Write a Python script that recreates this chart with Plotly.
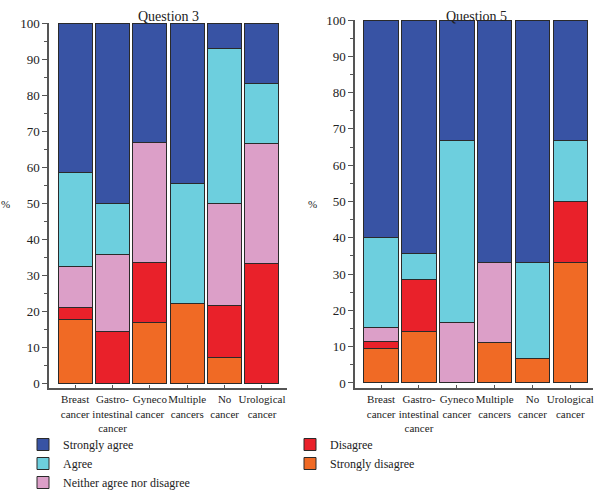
import plotly.graph_objects as go

categories = ["Breast<br>cancer", "Gastro-<br>intestinal<br>cancer", "Gyneco<br>cancer",
              "Multiple<br>cancers", "No<br>cancer", "Urological<br>cancer"]
series_names = ["Strongly disagree", "Disagree", "Neither agree nor disagree", "Agree", "Strongly agree"]
colors = ["#f06a25", "#e9212a", "#dc9fc8", "#6dcfde", "#3853a4"]

q3_strongly_disagree = [17.6, 0, 16.7, 22.2, 7.1, 0]
q3_disagree = [3.3, 14.3, 16.7, 0, 14.3, 33.3]
q3_neither = [11.6, 21.4, 33.3, 0, 28.6, 33.3]
q3_agree = [26.0, 14.3, 0, 33.3, 42.9, 16.7]
q3_strongly_agree = [41.5, 50.0, 33.3, 44.5, 7.1, 16.7]

q5_strongly_disagree = [9.6, 14.3, 0, 11.1, 6.7, 33.3]
q5_disagree = [1.9, 14.3, 0, 0, 0, 16.7]
q5_neither = [3.8, 0, 16.7, 22.2, 0, 0]
q5_agree = [24.7, 7.1, 50.0, 0, 26.6, 16.7]
q5_strongly_agree = [60.0, 64.3, 33.3, 66.7, 66.7, 33.3]

y_ticks = [0, 10, 20, 30, 40, 50, 60, 70, 80, 90, 100]

q3 = [q3_strongly_disagree, q3_disagree, q3_neither, q3_agree, q3_strongly_agree]
q5 = [q5_strongly_disagree, q5_disagree, q5_neither, q5_agree, q5_strongly_agree]

FONT = "Liberation Serif"
fig = go.Figure()
for i, name in enumerate(series_names):
    leg = "legend" if i >= 2 else "legend2"
    fig.add_trace(go.Bar(x=list(range(6)), y=q3[i], name=name, marker_color=colors[i],
                         marker_line=dict(color="#2a2a2a", width=1), xaxis="x", yaxis="y",
                         legend=leg))
for i, name in enumerate(series_names):
    fig.add_trace(go.Bar(x=list(range(6)), y=q5[i], name=name, marker_color=colors[i],
                         marker_line=dict(color="#2a2a2a", width=1), xaxis="x2", yaxis="y2",
                         showlegend=False))

H = 492.0
def yd(top, bottom):
    return [1 - bottom / H, 1 - top / H]

yaxis_common = dict(range=[-1.5, 100], tickvals=y_ticks, ticks="outside", ticklen=5, tickwidth=1,
                    tickcolor="#555", showline=True, linecolor="#555", linewidth=1.5,
                    showgrid=False, zeroline=False, automargin=False,
                    tickfont=dict(family=FONT, size=13, color="#222"),
                    minor=dict(dtick=5, ticks="outside", ticklen=3, tickcolor="#555", showgrid=False))
xaxis_common = dict(tickvals=list(range(6)), ticktext=categories, ticks="inside", ticklen=4,
                    tickangle=0, tickcolor="#555", showline=True, linecolor="#555", linewidth=1.5,
                    showgrid=False, zeroline=False, automargin=False,
                    tickfont=dict(family=FONT, size=11, color="#222"))

legend_common = dict(xanchor="left", yanchor="top", traceorder="reversed",
                     font=dict(family=FONT, size=12, color="#222"), bgcolor="rgba(0,0,0,0)",
                     tracegroupgap=0)

fig.update_layout(
    width=600, height=492, margin=dict(l=0, r=0, t=0, b=0, autoexpand=False),
    paper_bgcolor="white", plot_bgcolor="white", barmode="stack", bargap=0.09,
    font=dict(family=FONT),
    xaxis=dict(domain=[49 / 600, 287 / 600], range=[-0.7, 5.67], anchor="y", **xaxis_common),
    yaxis=dict(domain=yd(23, 388.4), anchor="x", **yaxis_common),
    xaxis2=dict(domain=[355 / 600, 593 / 600], range=[-0.69, 5.6], anchor="y2", **xaxis_common),
    yaxis2=dict(domain=yd(20, 388.4), anchor="x2", **yaxis_common),
    legend=dict(x=23 / 600, y=1 - 430 / H, **legend_common),
    legend2=dict(x=290 / 600, y=1 - 430 / H, **legend_common),
    annotations=[
        dict(text="Question 3", x=168 / 600, y=1 - 17 / H, xref="paper", yref="paper",
             xanchor="center", yanchor="middle",
             showarrow=False, font=dict(family=FONT, size=14, color="#222")),
        dict(text="Question 5", x=476 / 600, y=1 - 17 / H, xref="paper", yref="paper",
             xanchor="center", yanchor="middle",
             showarrow=False, font=dict(family=FONT, size=14, color="#222")),
        dict(text="%", x=5 / 600, y=1 - 204 / H, xref="paper", yref="paper",
             xanchor="center", yanchor="middle",
             showarrow=False, font=dict(family=FONT, size=11, color="#222")),
        dict(text="%", x=312 / 600, y=1 - 204 / H, xref="paper", yref="paper",
             xanchor="center", yanchor="middle",
             showarrow=False, font=dict(family=FONT, size=11, color="#222")),
    ],
)

fig.write_html("out.html")
